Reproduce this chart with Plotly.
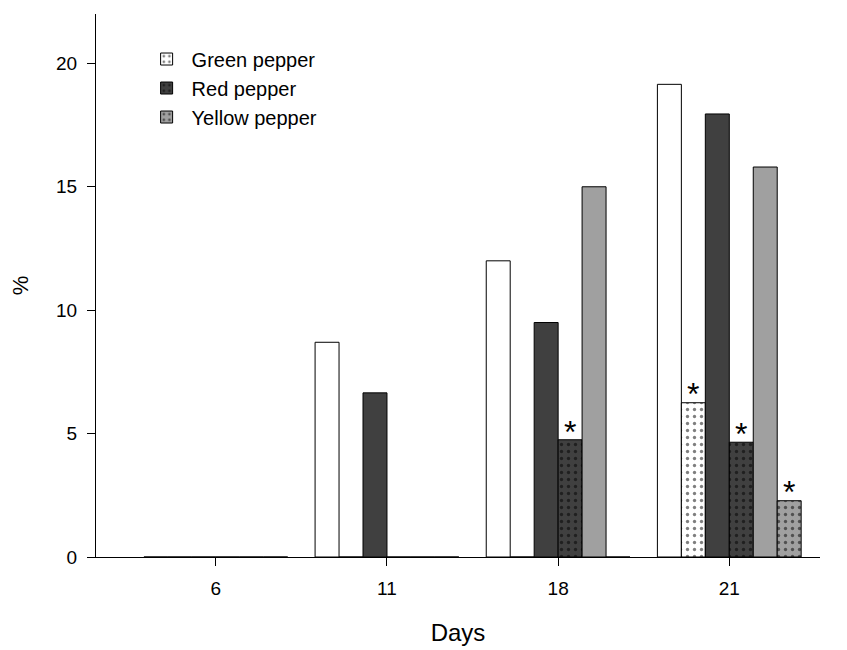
import plotly.graph_objects as go

# ---- data ----
days = ["6", "11", "18", "21"]

green_solid = [0, 8.7, 12.0, 19.15]
green_dotted = [0, 0, 0, 6.25]
red_solid = [0, 6.65, 9.5, 17.95]
red_dotted = [0, 0, 4.75, 4.65]
yellow_solid = [0, 0, 15.0, 15.8]
yellow_dotted = [0, 0, 0, 2.28]

green_sig = ["", "", "", "*"]
red_sig = ["", "", "*", "*"]
yellow_sig = ["", "", "", "*"]

series_names = ["Green pepper", "Red pepper", "Yellow pepper"]
fill_colors = ["#ffffff", "#404040", "#a0a0a0"]

FONT = "Liberation Sans, Arial, sans-serif"

fig = go.Figure()

solids = [green_solid, red_solid, yellow_solid]
dotteds = [green_dotted, red_dotted, yellow_dotted]
sigs = [green_sig, red_sig, yellow_sig]

for i, (name, col, s, d) in enumerate(zip(series_names, fill_colors, solids, dotteds)):
    fig.add_trace(go.Bar(
        x=days, y=s, name=name + " (total)", showlegend=False,
        offsetgroup=f"s{i}", alignmentgroup="a",
        marker=dict(color=col, line=dict(color="black", width=1)),
        hoverinfo="x+y",
    ))
    fig.add_trace(go.Bar(
        x=days, y=d, name=name, showlegend=True,
        offsetgroup=f"d{i}", alignmentgroup="a",
        marker=dict(color=col, line=dict(color="black", width=1),
                    pattern=dict(shape=".", fgcolor="black", bgcolor=col,
                                 size=7, solidity=0.18, fillmode="overlay")),
        hoverinfo="x+y",
    ))

for i, (d, sig) in enumerate(zip(dotteds, sigs)):
    labels = [f'<span style="font-size:32px">{s}</span>' if s else "" for s in sig]
    fig.add_trace(go.Scatter(
        x=days, y=d, mode="text", text=labels, textposition="middle center",
        offsetgroup=f"d{i}", alignmentgroup="a", showlegend=False,
        textfont=dict(family=FONT, size=11, color="black"),
        cliponaxis=False, hoverinfo="skip",
    ))

fig.update_layout(
    width=847, height=650,
    paper_bgcolor="white", plot_bgcolor="white",
    margin=dict(l=88, r=35, t=6, b=101),
    barmode="group", bargap=0.16, bargroupgap=0,
    scattermode="group", scattergap=0.16,
    font=dict(family=FONT, size=18, color="black"),
    showlegend=True,
    legend=dict(x=0.063, y=0.953, xanchor="left", yanchor="top",
                bgcolor="rgba(0,0,0,0)", font=dict(family=FONT, size=20),
                itemwidth=40, tracegroupgap=0),
)

fig.update_xaxes(
    range=[-0.7, 3.53], showline=True, linecolor="black", linewidth=1,
    ticks="outside", ticklen=8, tickcolor="black", showgrid=False, zeroline=False,
    tickfont=dict(family=FONT, size=19), ticklabelstandoff=6,
    title=dict(text="Days", font=dict(family=FONT, size=24), standoff=26),
)
fig.update_yaxes(
    range=[0, 22], tickvals=[0, 5, 10, 15, 20], showline=True, linecolor="black",
    linewidth=1, ticks="outside", ticklen=8, tickcolor="black", showgrid=False,
    zeroline=False, tickfont=dict(family=FONT, size=19), ticklabelstandoff=6,
    title=dict(text="%", font=dict(family=FONT, size=22), standoff=24),
)

fig.write_html("out.html")
